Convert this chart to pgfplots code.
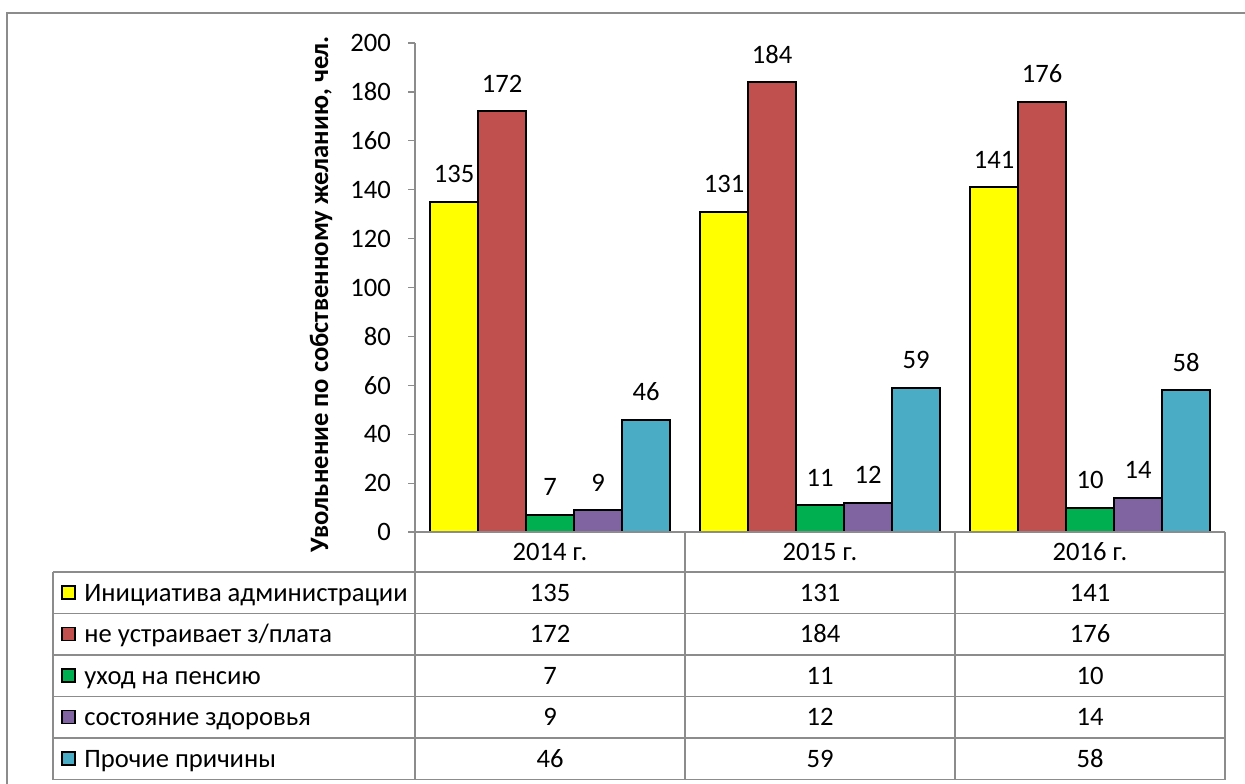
\documentclass[border=0pt]{standalone}
\usepackage{pgfplots}
\pgfplotsset{compat=1.18}
\usepackage{pgfplotstable}
\usepackage{fontspec}
\setmainfont{Carlito}

\definecolor{cAdm}{HTML}{FFFF00}
\definecolor{cPay}{HTML}{C0504D}
\definecolor{cPen}{HTML}{00B050}
\definecolor{cHea}{HTML}{8064A2}
\definecolor{cOth}{HTML}{4BACC6}
\definecolor{rulegray}{HTML}{8C8C8C}

% dismissals by reason, 2014--2016
\pgfplotstableread{
x adm pay pen hea oth
0 135 172 7  9  46
1 131 184 11 12 59
2 141 176 10 14 58
}\data

\newcommand{\chartfont}{\fontsize{13.3}{15}\selectfont}

\begin{document}
\begin{tikzpicture}[font=\chartfont]
% page frame, in pixel units with the origin at the axis corner
\begin{scope}[x=0.5pt,y=-0.5pt,shift={(-415,-532)}]
  \useasboundingbox (0,0) rectangle (1245,783);
  \draw[rulegray, line width=0.6pt] (7,790) -- (7,13) -- (1250,13);
\end{scope}

\begin{axis}[
  at={(0,0)}, anchor=south west,
  scale only axis, width=405pt, height=244.5pt,
  xmin=-0.5, xmax=2.5, ymin=0, ymax=200,
  ytick={0,20,...,200}, xtick=\empty,
  axis y line*=left, axis x line*=bottom,
  axis line style={rulegray, line width=0.6pt, -},
  tick align=outside, major tick length=3.5pt,
  ytick style={rulegray, line width=0.6pt},
  tick label style={font=\chartfont},
  yticklabel style={xshift=-5pt},
  /pgf/number format/assume math mode=true,
  ybar=0pt, bar width=24pt, clip=false,
  every axis plot/.append style={draw=black, line width=1pt},
  nodes near coords,
  nodes near coords style={text=black, anchor=base, yshift=9.5pt, font=\chartfont},
]
\addplot[fill=cAdm] table[x=x, y=adm] {\data};
\addplot[fill=cPay] table[x=x, y=pay] {\data};
\addplot[fill=cPen] table[x=x, y=pen] {\data};
\addplot[fill=cHea] table[x=x, y=hea] {\data};
\addplot[fill=cOth] table[x=x, y=oth] {\data};
\end{axis}

% data table below the plot
\begin{scope}[x=0.5pt,y=-0.5pt,shift={(-415,-532)}]
  \draw[rulegray, line width=0.6pt] (415,532) -- (1225,532);
  \foreach \yy in {572,613.5,655,696.5,738,779.5}
    \draw[rulegray, line width=0.6pt] (53,\yy) -- (1225,\yy);
  \draw[rulegray, line width=0.6pt] (53,572) -- (53,779.5);
  \foreach \xx in {415,685,955,1225}
    \draw[rulegray, line width=0.6pt] (\xx,532) -- (\xx,779.5);
  \foreach \yr [count=\r from 0] in {2014,2015,2016}
    \node[anchor=base] at ({550+270*\r},560.5) {\yr~г.};
  \foreach \col/\name/\c [count=\i from 0] in {
      adm/{Инициатива администрации}/cAdm,
      pay/{не устраивает з/плата}/cPay,
      pen/{уход на пенсию}/cPen,
      hea/{состояние здоровья}/cHea,
      oth/{Прочие причины}/cOth} {
    \pgfmathsetmacro\yc{592.5+41.5*\i}
    \draw[black, line width=0.6pt, fill=\c] (62,\yc-6.5) rectangle (75,\yc+6.5);
    \node[anchor=base west, inner sep=0pt] at (84,\yc+8.5) {\name};
    \foreach \r in {0,1,2} {
      \pgfplotstablegetelem{\r}{\col}\of\data
      \node[anchor=base] at ({550+270*\r},\yc+8.5) {\pgfplotsretval};
    }
  }
  \node[rotate=90, font=\chartfont\bfseries] at (321,294)
    {Увольнение по собственному желанию, чел.};
\end{scope}
\end{tikzpicture}
\end{document}
